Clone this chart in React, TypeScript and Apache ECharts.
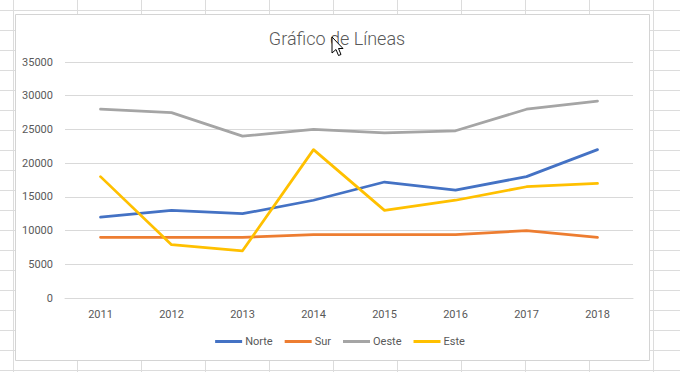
import React, { useEffect, useRef } from "react";
import * as echarts from "echarts";

const years = ["2011", "2012", "2013", "2014", "2015", "2016", "2017", "2018"];
const norte = [12000, 13000, 12500, 14500, 17200, 16000, 18000, 22000];
const sur = [9000, 9000, 9000, 9400, 9400, 9400, 10000, 9000];
const oeste = [28000, 27500, 24000, 25000, 24500, 24800, 28000, 29200];
const este = [18000, 7900, 7000, 22000, 13000, 14500, 16500, 17000];
const seriesNames = ["Norte", "Sur", "Oeste", "Este"];
const seriesColors = ["#4472C4", "#ED7D31", "#A5A5A5", "#FFC000"];

const FONT = "Roboto, 'Liberation Sans', sans-serif";

export default function App() {
  const ref = useRef<HTMLDivElement>(null);
  useEffect(() => {
    if (!ref.current) return;
    const chart = echarts.init(ref.current, null, { renderer: "svg" });

    const bg: any[] = [];
    // spreadsheet grid behind the chart
    for (let x = 13; x < 680; x += 64) {
      bg.push({
        type: "line",
        z: -20,
        silent: true,
        shape: { x1: x + 0.5, y1: 0, x2: x + 0.5, y2: 372 },
        style: { stroke: "#dcdcdc", lineWidth: 1 },
      });
    }
    for (let y = 10; y < 372; y += 20) {
      bg.push({
        type: "line",
        z: -20,
        silent: true,
        shape: { x1: 0, y1: y + 0.5, x2: 680, y2: y + 0.5 },
        style: { stroke: "#dcdcdc", lineWidth: 1 },
      });
    }
    bg.push({
      type: "rect",
      z: -10,
      silent: true,
      shape: { x: 15.5, y: 14.5, width: 634, height: 346 },
      style: { fill: "#ffffff", stroke: "#d4d4d4", lineWidth: 1 },
    });
    // mouse cursor
    bg.push({
      type: "polygon",
      z: 100,
      silent: true,
      x: 332,
      y: 37,
      shape: {
        points: [
          [0, 0],
          [0, 16],
          [4, 12.5],
          [6.5, 18.5],
          [9, 17.5],
          [6.5, 11.5],
          [11, 11.5],
        ],
      },
      style: { fill: "#ffffff", stroke: "#000000", lineWidth: 1 },
    });

    const dataArr = [norte, sur, oeste, este];

    chart.setOption({
      animation: false,
      backgroundColor: "#ffffff",
      title: {
        text: "Gráfico de Líneas",
        left: 332,
        top: 24,
        textAlign: "center",
        textStyle: {
          fontFamily: FONT,
          fontSize: 18,
          fontWeight: 300,
          color: "#595959",
        },
      },
      graphic: bg,
      legend: {
        data: seriesNames,
        top: 331,
        left: "center",
        itemWidth: 27,
        itemHeight: 3,
        itemGap: 12,
        icon: "rect",
        textStyle: {
          fontFamily: FONT,
          fontSize: 11,
          color: "#595959",
          padding: [0, 0, 0, -2],
        },
      },
      grid: { left: 65, right: 47, top: 62, bottom: 74 },
      xAxis: {
        type: "category",
        data: years,
        boundaryGap: true,
        axisLine: { lineStyle: { color: "#d9d9d9" } },
        axisTick: { show: false },
        axisLabel: {
          fontFamily: FONT,
          fontSize: 11,
          color: "#595959",
          margin: 11,
        },
      },
      yAxis: {
        type: "value",
        min: 0,
        max: 35000,
        interval: 5000,
        axisLine: { show: false },
        axisTick: { show: false },
        splitLine: { lineStyle: { color: "#d9d9d9" } },
        axisLabel: {
          fontFamily: FONT,
          fontSize: 11,
          color: "#595959",
          margin: 12,
          formatter: (v: number) => String(v),
        },
      },
      series: seriesNames.map((name, i) => ({
        name,
        type: "line",
        data: dataArr[i],
        symbol: "none",
        color: seriesColors[i],
        lineStyle: { width: 2.75, color: seriesColors[i], cap: "round", join: "round" },
      })),
    });
    return () => chart.dispose();
  }, []);
  return (
    <div
      ref={ref}
      style={{ position: "fixed", left: 0, top: 0, width: 680, height: 372 }}
    />
  );
}
